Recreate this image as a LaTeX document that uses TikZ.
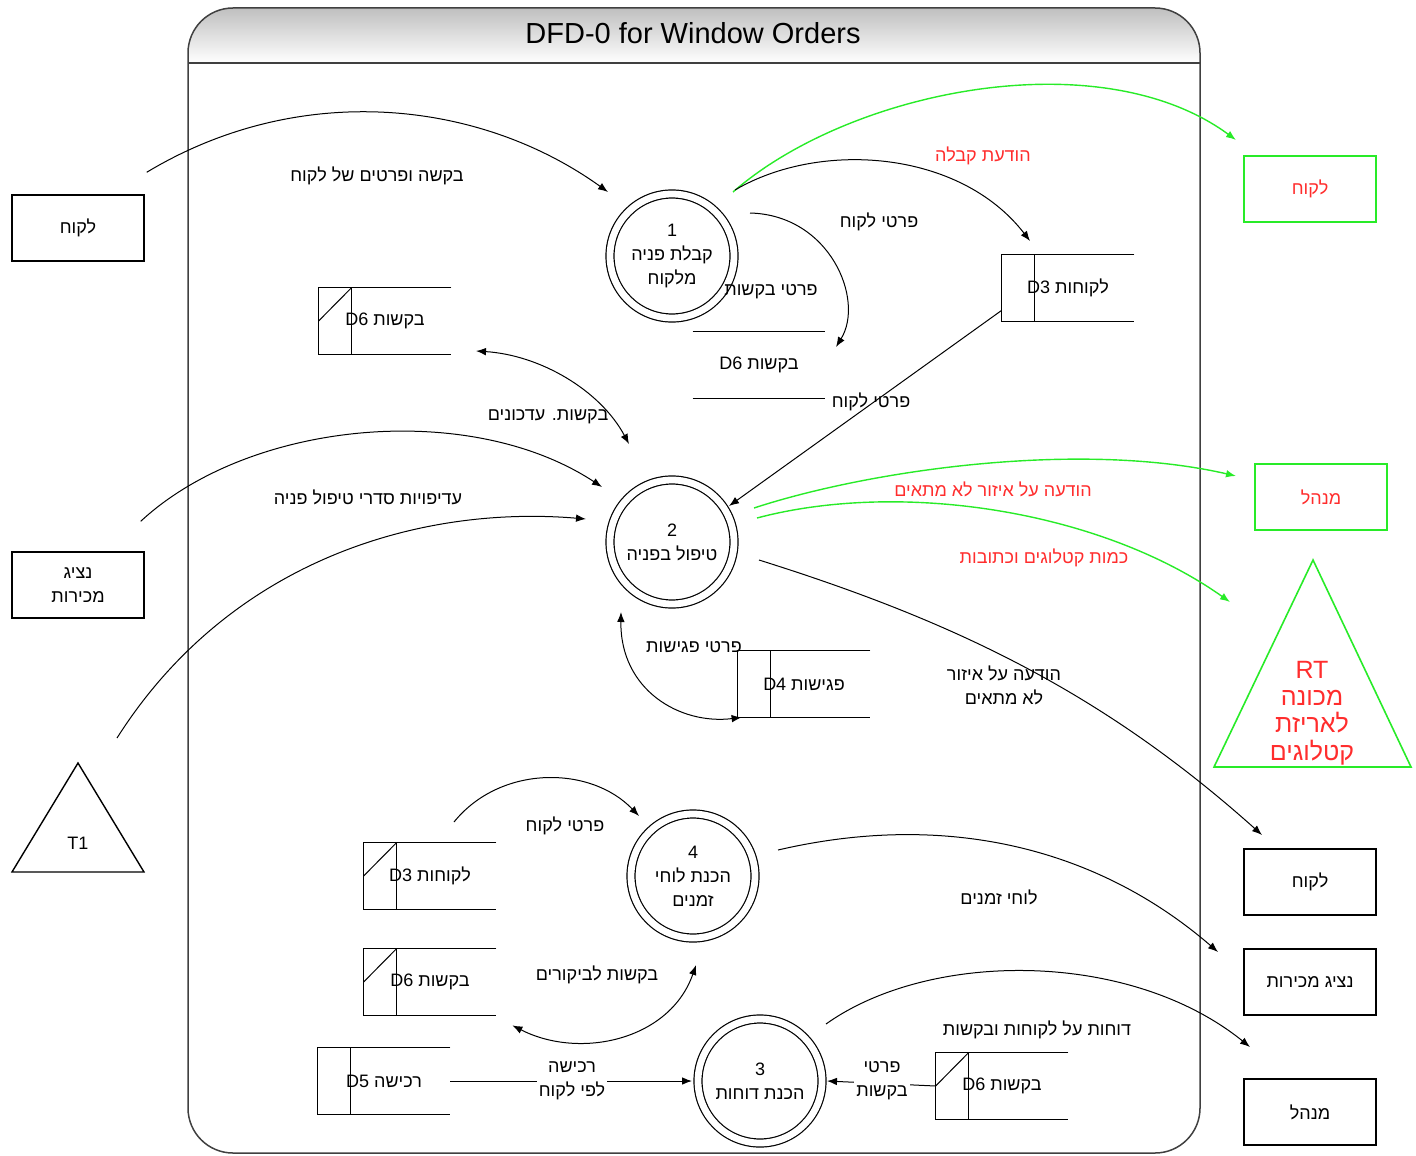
\documentclass[tikz,border=0pt]{standalone}
\usepackage{fontspec}
\setmainfont{Liberation Sans}
\newfontfamily\hebfont[Script=Hebrew]{Liberation Sans}
\TeXXeTstate=1
\usetikzlibrary{calc,arrows.meta}

\definecolor{flowgreen}{RGB}{40,235,40}
\definecolor{textred}{RGB}{255,45,45}
\newcommand{\heb}[1]{{\hebfont\beginR #1\endR}}
\newcommand{\lblfont}{\fontsize{9}{12}\selectfont}

\tikzset{
  entity/.style={draw, line width=0.7pt, minimum width=66pt, minimum height=33pt,
    inner sep=0pt, align=center, font=\lblfont},
  gentity/.style={entity, draw=flowgreen, text=textred},
  proc/.style={circle, draw, double, double distance=3.4pt, line width=0.6pt,
    minimum size=62pt, inner sep=0pt, align=center, font=\lblfont},
  store/.style={minimum width=66pt, minimum height=33pt, inner sep=0pt, font=\lblfont},
  storeline/.style={line width=0.7pt},
  flow/.style={->, line width=0.5pt},
  gflow/.style={flow, draw=flowgreen, line width=0.7pt},
  lbl/.style={inner sep=1pt, align=center, font=\lblfont},
  rlbl/.style={lbl, text=textred}
}

\begin{document}
\begin{tikzpicture}[x=0.5pt,y=-0.5pt,>={Latex[length=5pt,width=3.8pt]}]
  \useasboundingbox (0,0) rectangle (1416,1155);

  %% Frame with the title band
  \begin{scope}
    \clip[rounded corners=22.5pt] (188,8) rectangle (1200,1153);
    \shade[top color=black!25, bottom color=white] (188,8) rectangle (1200,63);
  \end{scope}
  \draw[line width=0.75pt, black!75] (188,63) -- (1200,63);
  \draw[line width=0.75pt, black!75, rounded corners=22.5pt] (188,8) rectangle (1200,1153);
  \node[font=\fontsize{14.5}{17}\selectfont] (TITLE) at (693,33) {DFD-0 for Window Orders};

  %% External entities
  \foreach \nm/\px/\py/\txt in {CUSTA/78/228/לקוח, CUSTB/1310/882/לקוח,
      SALESB/1310/982/{נציג מכירות}, MGRB/1310/1112/מנהל}
  {
    \node[entity] (\nm) at (\px,\py) {\heb{\txt}};
  }
  \node[entity] (SALESA) at (78,585) {\heb{נציג}\\\heb{מכירות}};
  \node[gentity] (CUSTG) at (1310,189) {\heb{לקוח}};
  \node[gentity] (MGRG) at (1321,497) {\heb{מנהל}};

  %% Timers (triangles)
  \node[lbl] (T1) at (78,843) {T1};
  \draw[line width=0.7pt] ($(T1)+(0,-80)$) -- ($(T1)+(-66,29)$) -- ($(T1)+(66,29)$) -- cycle;
  \node[rlbl, font=\fontsize{12.5}{13.6}\selectfont] (RT) at (1312,713)
    {RT\\\heb{מכונה}\\\heb{לאריזת}\\\heb{קטלוגים}};
  \draw[line width=0.8pt, flowgreen] ($(RT)+(1,-153)$) -- ($(RT)+(-98,54)$) -- ($(RT)+(99,54)$) -- cycle;

  %% Processes
  \node[proc] (P1) at (672,256) {1\\\heb{קבלת פניה}\\\heb{מלקוח}};
  \node[proc] (P2) at (672,542) {2\\\heb{טיפול בפניה}};
  \node[proc] (P4) at (693,876) {4\\\heb{הכנת לוחי}\\\heb{זמנים}};
  \node[proc] (P3) at (760,1081) {3\\\heb{הכנת דוחות}};

  %% Data stores
  \foreach \nm/\px/\py/\txt/\dg in {D6A/385/321/{בקשות D6}/1, D3A/1068/288/{לקוחות D3}/0,
      D4/804/684/{פגישות D4}/0, D3B/430/876/{לקוחות D3}/1, D6C/430/982/{בקשות D6}/1,
      D5/384/1081/{רכישה D5}/0, D6D/1002/1086/{בקשות D6}/1}
  {
    \node[store] (\nm) at (\px,\py) {\heb{\txt}};
    \draw[storeline] (\nm.north east) -- (\nm.north west) -- (\nm.south west) -- (\nm.south east);
    \draw[storeline] ($(\nm.north west)+(33,0)$) -- ($(\nm.south west)+(33,0)$);
    \ifnum\dg=1
      \draw[line width=0.5pt] (\nm.west) -- ($(\nm.north west)+(33,0)$);
    \fi
  }
  \node[store] (D6B) at (759,365) {\heb{בקשות D6}};
  \draw[storeline] (D6B.north west) -- (D6B.north east);
  \draw[storeline] (D6B.south west) -- (D6B.south east);

  %% Flows around process 1
  \draw[flow] ($(CUSTA.north east)+(2,-22)$) .. controls (300,80) and (480,100) .. ($(P1)+(-64,-64)$);
  \draw[gflow] ($(P1)+(61,-64)$) .. controls (850,90) and (1100,40) .. ($(CUSTG)+(-74,-49)$);
  \draw[flow] ($(P1)+(63,-66)$) .. controls (820,140) and (960,150) .. ($(D3A)+(-38,-47)$);
  \draw[flow] ($(P1)+(78,-43)$) .. controls (830,215) and (865,300) .. ($(D6B)+(77,-18)$);

  %% Flows around process 2
  \draw[flow] ($(D3A.south west)+(0,-11)$) -- ($(P2)+(57,-36)$);
  \draw[flow,<->] ($(D6A)+(91,30)$) .. controls (540,355) and (600,390) .. ($(P2)+(-43,-98)$);
  \draw[flow] ($(SALESA.north east)+(-4,-30)$) .. controls (250,420) and (470,400) .. ($(P2)+(-70,-55)$);
  \draw[flow] ($(T1)+(39,-105)$) .. controls (230,560) and (420,505) .. ($(P2)+(-86,-23)$);
  \draw[gflow] ($(P2)+(82,-34)$) .. controls (870,470) and (1080,440) .. ($(MGRG)+(-85,-21)$);
  \draw[gflow] ($(P2)+(85,-24)$) .. controls (900,480) and (1100,510) .. ($(RT)+(-82,-111)$);
  \draw[flow] ($(P2)+(87,18)$) .. controls (950,620) and (1100,690) .. ($(CUSTB)+(-48,-47)$);
  \draw[flow,<->] ($(P2)+(-51,70)$) .. controls (620,690) and (680,725) .. ($(D4.south west)+(4,0)$);

  %% Flows around processes 4 and 3
  \draw[flow] ($(D3B)+(24,-54)$) .. controls (500,765) and (590,765) .. ($(P4)+(-54,-60)$);
  \draw[flow] ($(P4)+(85,-26)$) .. controls (950,810) and (1100,850) .. ($(SALESB)+(-92,-30)$);
  \draw[flow,<->] ($(D6C.south east)+(16,10)$) .. controls (580,1060) and (670,1040) .. ($(P4)+(3,89)$);
  \draw[flow] (D5.east) -- ($(P3)+(-68,0)$);
  \draw[flow] (D6D.west) -- ($(P3)+(67,0)$);
  \draw[flow] ($(P3)+(66,-57)$) .. controls (930,950) and (1130,950) .. ($(MGRB)+(-60,-65)$);

  %% Flow labels
  \node[lbl] (LREQ) at (377,176) {\heb{בקשה ופרטים של לקוח}};
  \node[rlbl] (LRCPT) at (983,156) {\heb{הודעת קבלה}};
  \node[lbl] (LCUST1) at (879,222) {\heb{פרטי לקוח}};
  \node[lbl] (LREQD) at (771,292) {\heb{פרטי בקשות}};
  \node[lbl] (LCUST2) at (871,402) {\heb{פרטי לקוח}};
  \node[lbl] (LUPD) at (548,417) {\heb{בקשות. עדכונים}};
  \node[lbl] (LPRIO) at (368,497) {\heb{עדיפויות סדרי טיפול פניה}};
  \node[rlbl] (LAREA) at (993,489) {\heb{הודעה על איזור לא מתאים}};
  \node[rlbl] (LCAT) at (1044,558) {\heb{כמות קטלוגים וכתובות}};
  \node[lbl] (LAREA2) at (1004,685) {\heb{הודעה על איזור}\\\heb{לא מתאים}};
  \node[lbl] (LMEET) at (694,647) {\heb{פרטי פגישות}};
  \node[lbl] (LCUST3) at (565,826) {\heb{פרטי לקוח}};
  \node[lbl] (LSCHED) at (999,897) {\heb{לוחי זמנים}};
  \node[lbl] (LVISIT) at (597,975) {\heb{בקשות לביקורים}};
  \node[lbl, fill=white] (LBUY) at (572,1081) {\heb{רכישה}\\\heb{לפי לקוח}};
  \node[lbl, fill=white] (LREQD2) at (882,1081) {\heb{פרטי}\\\heb{בקשות}};
  \node[lbl] (LREP) at (1037,1030) {\heb{דוחות על לקוחות ובקשות}};
\end{tikzpicture}
\end{document}
